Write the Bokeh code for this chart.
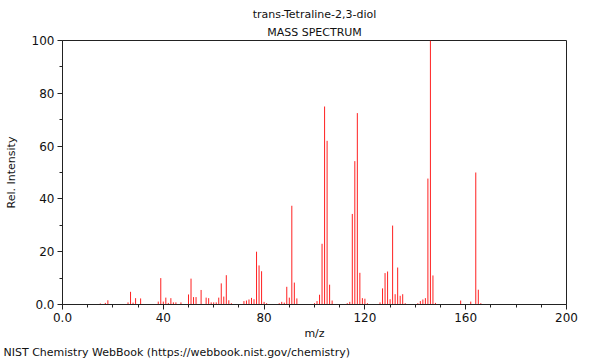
from bokeh.plotting import figure
from bokeh.models import FixedTicker, Range1d, ColumnDataSource, Title
from bokeh.embed import file_html
from bokeh.resources import INLINE

title_line1 = "trans-Tetraline-2,3-diol"
title_line2 = "MASS SPECTRUM"
credit = "NIST Chemistry WebBook (https://webbook.nist.gov/chemistry)"

mz = [15, 17, 18, 26, 27, 28, 29, 31, 38, 39, 40, 41, 42, 43, 44, 45, 47,
      50, 51, 52, 53, 55, 57, 58, 59, 60, 61, 62, 63, 64, 65, 66, 67,
      72, 73, 74, 75, 76, 77, 78, 79, 80, 81, 86, 87, 88, 89, 90, 91, 92, 93,
      100, 101, 102, 103, 104, 105, 106, 107, 113, 114, 115, 116, 117, 118,
      119, 120, 121, 126, 127, 128, 129, 130, 131, 132, 133, 134, 135, 136,
      141, 142, 143, 144, 145, 146, 147, 148, 158, 162, 164, 165, 166]
intensity = [0.4, 0.6, 1.6, 0.8, 4.8, 0.7, 2.4, 2.3, 1.1, 10.0, 1.1, 2.6, 0.6, 2.4, 0.8, 0.8, 0.8,
             3.8, 9.8, 2.8, 2.8, 5.5, 2.6, 2.4, 0.8, 0.8, 0.8, 2.6, 8.0, 3.0, 11.1, 1.6, 0.5,
             1.3, 1.5, 1.9, 2.5, 2.0, 20.0, 14.8, 12.6, 1.0, 0.5, 0.5, 1.0, 0.7, 6.7, 2.6, 37.4, 8.3, 2.3,
             0.5, 1.3, 3.7, 23.0, 75.0, 62.0, 7.5, 1.5, 0.5, 1.0, 34.3, 54.3, 72.5, 12.0,
             2.4, 2.2, 0.5, 0.8, 6.1, 11.9, 12.5, 2.0, 29.9, 3.9, 14.0, 3.3, 3.9, 0.5,
             0.5, 1.3, 1.9, 2.4, 47.7, 100.0, 11.0, 0.6, 1.5, 1.1, 50.0, 5.6, 0.5]

x_major = [0, 40, 80, 120, 160, 200]
x_minor = [10, 20, 30, 50, 60, 70, 90, 100, 110, 130, 140, 150, 170, 180, 190]
y_major = [0, 20, 40, 60, 80, 100]
y_minor = [10, 30, 50, 70, 90]

FONT = "DejaVu Sans"

p = figure(width=600, height=360, output_backend="svg", toolbar_location=None,
           x_range=Range1d(0, 200), y_range=Range1d(0, 100),
           min_border_left=62, min_border_right=34, min_border_top=40, min_border_bottom=56)

p.xgrid.visible = False
p.ygrid.visible = False
p.outline_line_color = "#222222"
p.outline_line_width = 1
p.background_fill_color = "white"
p.border_fill_color = "white"

src = ColumnDataSource(dict(mz=mz, zero=[0] * len(mz), inten=intensity))
p.segment(x0="mz", y0="zero", x1="mz", y1="inten", source=src,
          line_color="#ff2020", line_width=1)

for ax in (p.xaxis[0], p.yaxis[0]):
    ax.axis_line_color = "#222222"
    ax.major_tick_line_color = "#222222"
    ax.minor_tick_line_color = "#222222"
    ax.major_tick_in = 0
    ax.major_tick_out = 5
    ax.minor_tick_in = 0
    ax.minor_tick_out = 3
    ax.major_label_text_font = FONT
    ax.major_label_text_font_size = "12px"
    ax.major_label_text_color = "#111111"
    ax.axis_label_text_font = FONT
    ax.axis_label_text_font_size = "11px"
    ax.axis_label_text_font_style = "normal"
    ax.axis_label_text_color = "#111111"
    ax.major_label_standoff = 3

p.xaxis[0].ticker = FixedTicker(ticks=x_major, minor_ticks=x_minor)
p.yaxis[0].ticker = FixedTicker(ticks=y_major, minor_ticks=y_minor)
p.xaxis[0].major_label_overrides = {0: "0.0"}
p.yaxis[0].major_label_overrides = {0: "0.0"}
p.xaxis[0].axis_label = "m/z"
p.yaxis[0].axis_label = "Rel. Intensity"
p.xaxis[0].axis_label_standoff = 2
p.yaxis[0].axis_label_standoff = 11

p.add_layout(Title(text=title_line2, align="center", text_font=FONT, text_font_size="11px",
                   text_font_style="normal", text_color="#111111", standoff=3), "above")
p.add_layout(Title(text=title_line1, align="center", text_font=FONT, text_font_size="11px",
                   text_font_style="normal", text_color="#111111", standoff=3), "above")
p.add_layout(Title(text=credit, align="left", offset=-59, text_font=FONT, text_font_size="11px",
                   text_font_style="normal", text_color="#111111", standoff=2), "below")

open("out.html", "w").write(file_html(p, INLINE))
